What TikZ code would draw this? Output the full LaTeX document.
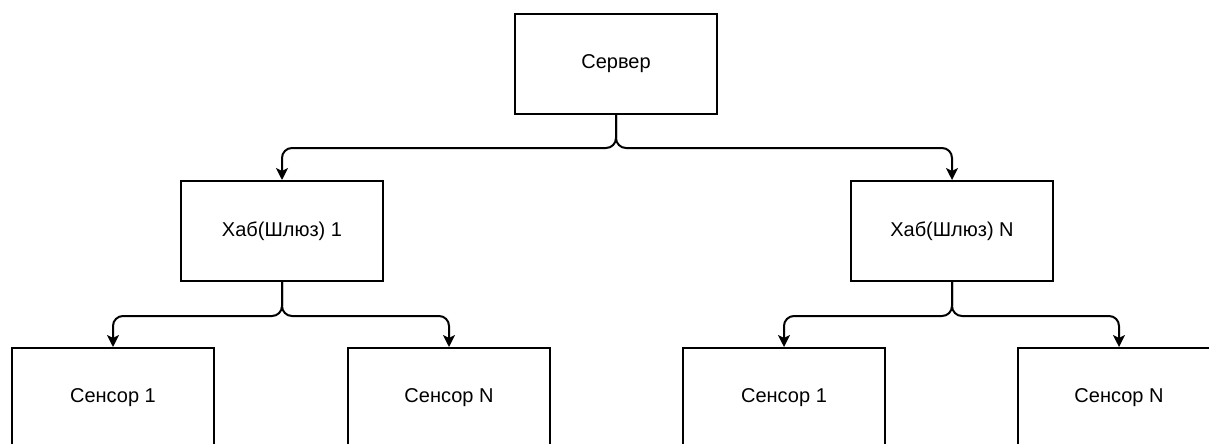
\documentclass[tikz,border=0pt]{standalone}
\usepackage{fontspec}
\setmainfont{Liberation Sans}
\usetikzlibrary{arrows.meta}
\tikzset{
  box/.style={draw, line width=2pt, minimum width=202pt, minimum height=100pt,
    inner sep=0pt, font=\fontsize{20}{24}\selectfont},
  edge/.style={line width=2pt, rounded corners=10pt,
    -{Stealth[length=12pt,width=12pt,inset=3pt]}}
}
\newcommand{\lowtext}[1]{\raisebox{-2pt}{#1}}
\begin{document}
\begin{tikzpicture}[x=1pt,y=-1pt]
  \useasboundingbox (0,0) rectangle (1209,444);
  \clip (0,0) rectangle (1209,444);
  % top level
  \node[box] (srv) at (616,64) {\lowtext{Сервер}};
  % gateways
  \node[box] (h1) at (282,231) {\lowtext{Хаб(Шлюз) 1}};
  \node[box] (hn) at (952,231) {\lowtext{Хаб(Шлюз) N}};
  % sensors
  \node[box] (s11) at (113,398) {\lowtext{Сенсор 1}};
  \node[box] (s1n) at (449,398) {\lowtext{Сенсор N}};
  \node[box] (sn1) at (784,398) {\lowtext{Сенсор 1}};
  \node[box] (snn) at (1119,398) {\lowtext{Сенсор N}};
  % connectors
  \draw[edge] (srv.south) -- ++(0,33) -| (h1.north);
  \draw[edge] (srv.south) -- ++(0,33) -| (hn.north);
  \draw[edge] (h1.south) -- ++(0,34) -| (s11.north);
  \draw[edge] (h1.south) -- ++(0,34) -| (s1n.north);
  \draw[edge] (hn.south) -- ++(0,34) -| (sn1.north);
  \draw[edge] (hn.south) -- ++(0,34) -| (snn.north);
\end{tikzpicture}
\end{document}
